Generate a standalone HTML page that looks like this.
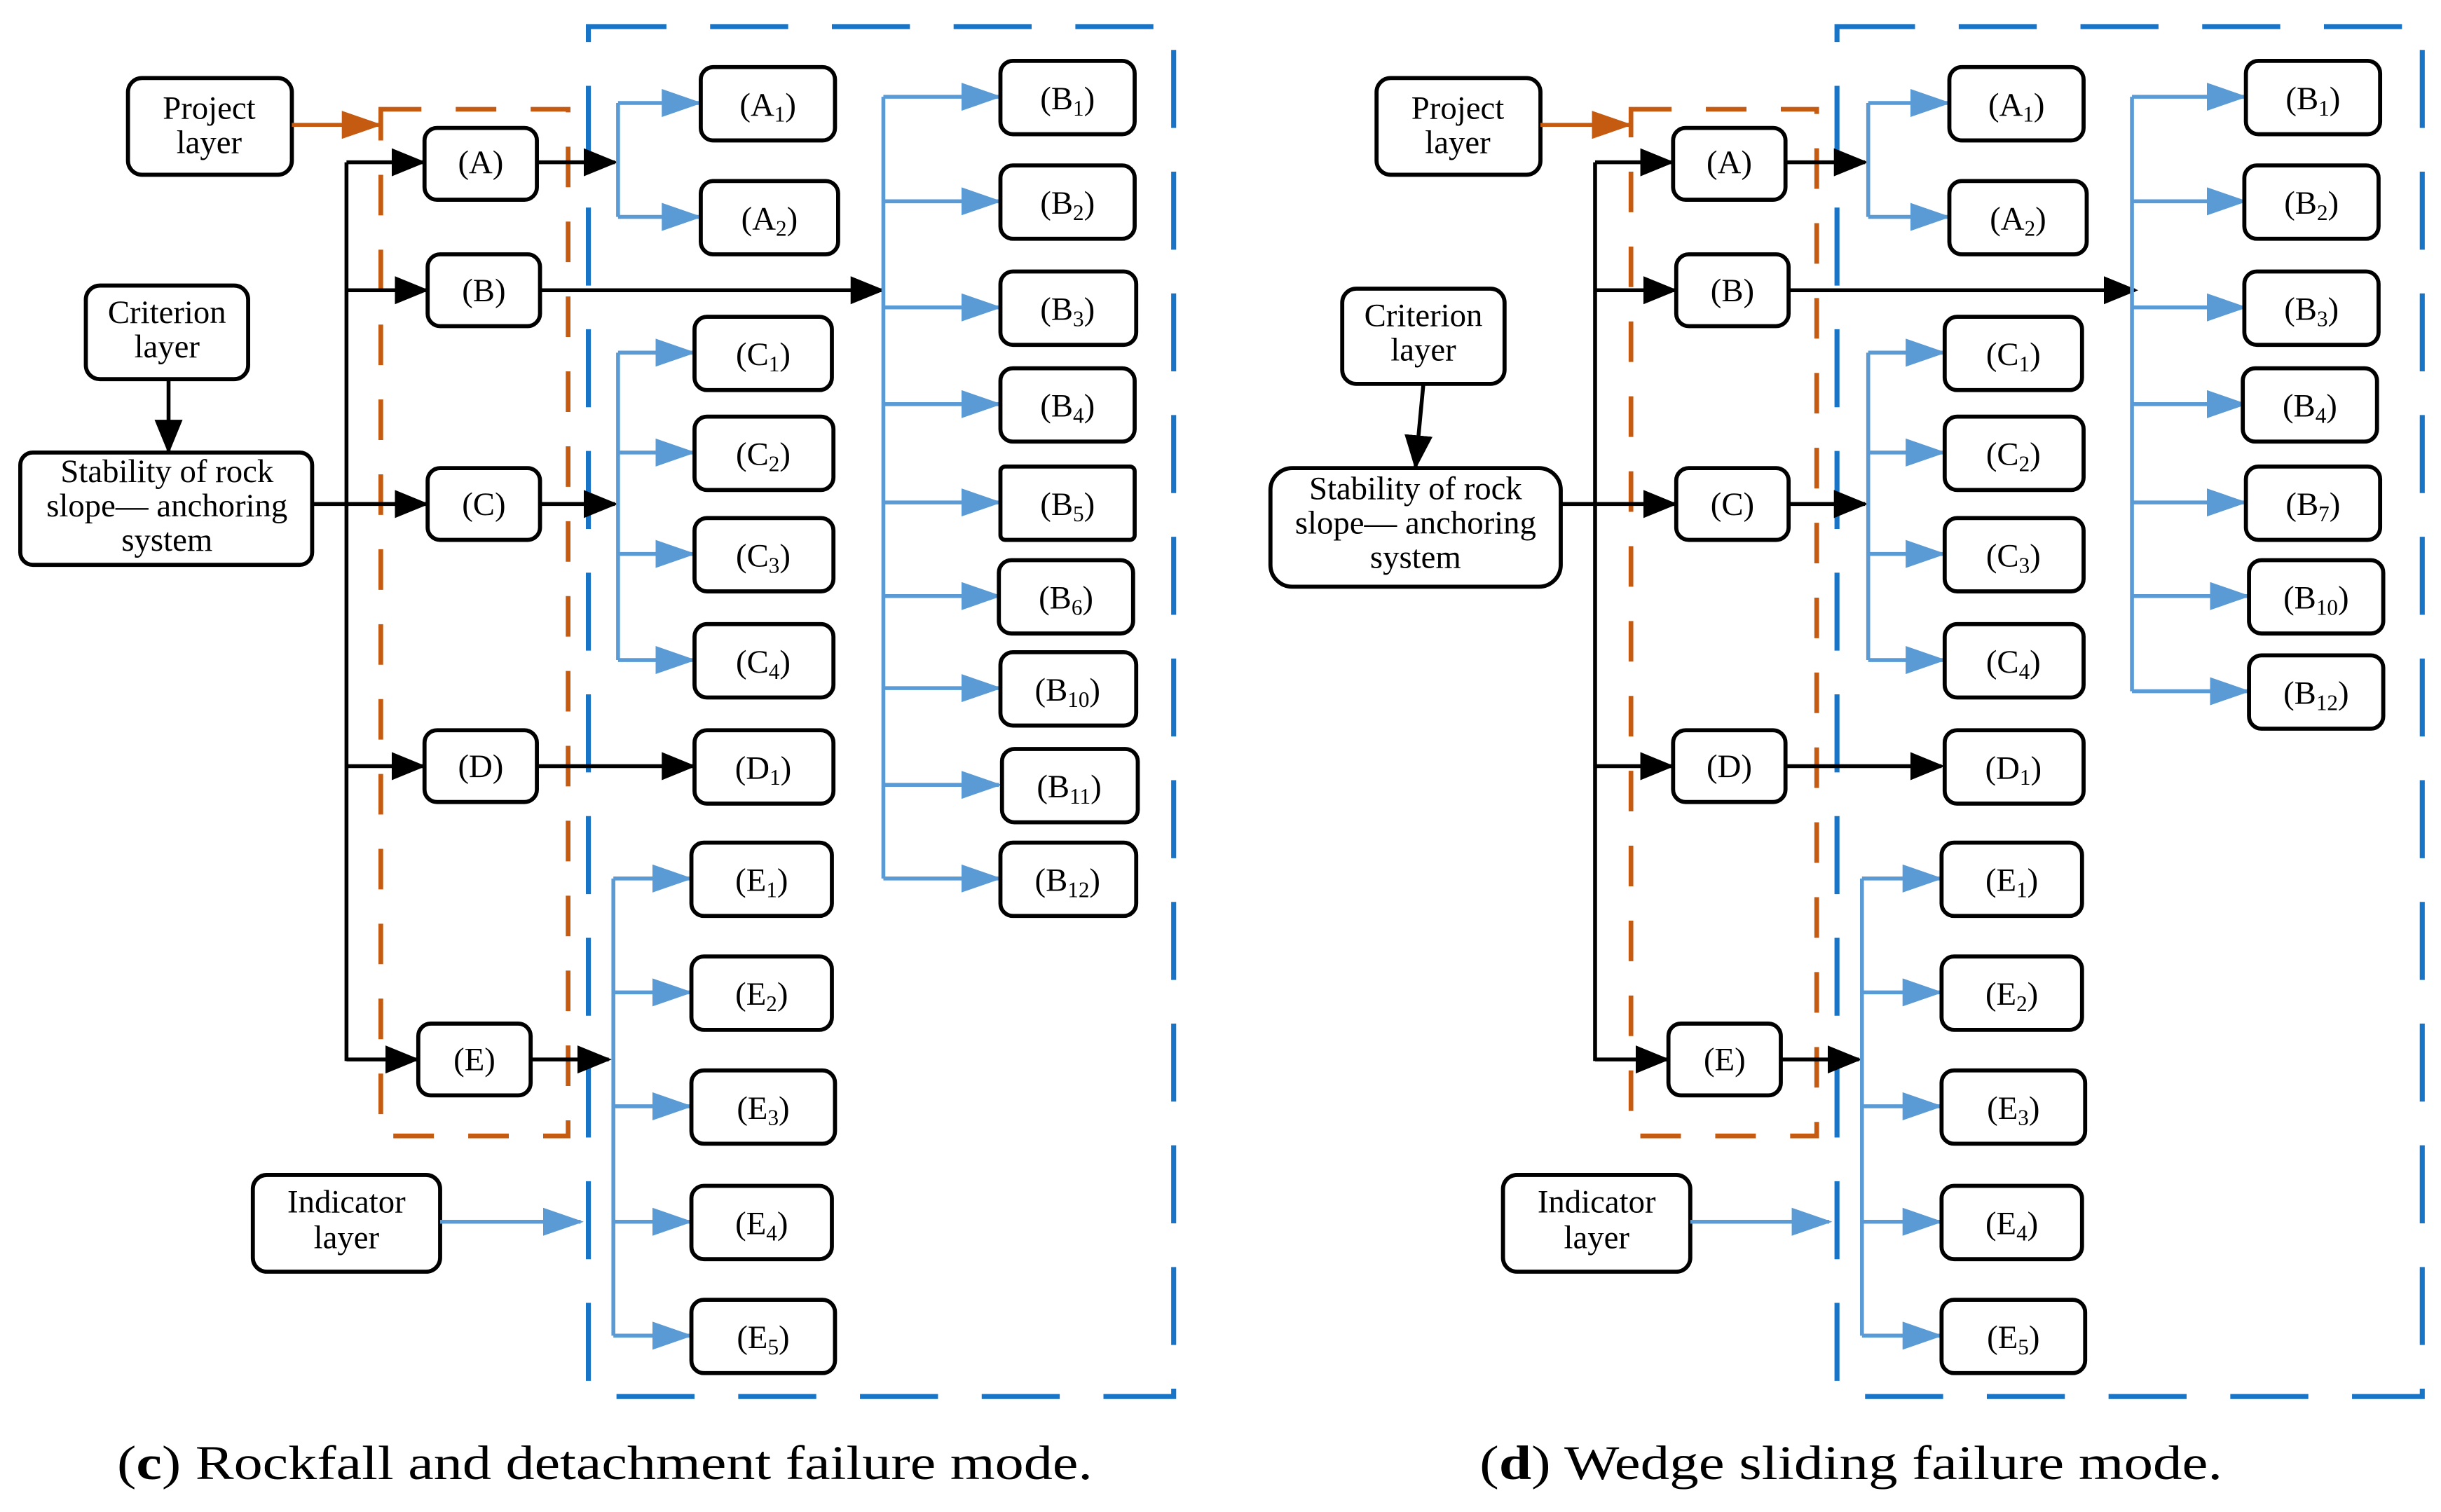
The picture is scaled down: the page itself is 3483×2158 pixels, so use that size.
<!DOCTYPE html>
<html><head><meta charset="utf-8"><style>
html,body{margin:0;padding:0;background:#fff;}
svg{display:block;}
text{font-family:"Liberation Serif",serif;fill:#000;}
</style></head><body>
<svg width="3483" height="2158" viewBox="0 0 1564 969" xmlns="http://www.w3.org/2000/svg">
<defs>
<marker id="bk" markerUnits="userSpaceOnUse" markerWidth="22" markerHeight="18" refX="20" refY="9" orient="auto"><path d="M0,0 L22,9 L0,18 z" fill="#000"/></marker>
<marker id="bl" markerUnits="userSpaceOnUse" markerWidth="26" markerHeight="18" refX="24" refY="9" orient="auto"><path d="M0,0 L26,9 L0,18 z" fill="#5B9BD5"/></marker>
<marker id="or" markerUnits="userSpaceOnUse" markerWidth="26" markerHeight="18" refX="24" refY="9" orient="auto"><path d="M0,0 L26,9 L0,18 z" fill="#C55A11"/></marker>
<style>
.bx{fill:#fff;stroke:#000;stroke-width:2.6;}
.k{stroke:#000;stroke-width:2.5;fill:none;}
.b{stroke:#5B9BD5;stroke-width:2.5;fill:none;}
.o{stroke:#C55A11;stroke-width:2.5;fill:none;}
.od{stroke:#C55A11;stroke-width:3;fill:none;stroke-dasharray:26 22;}
.bd{stroke:#1874C6;stroke-width:3.2;fill:none;stroke-dasharray:50 28;}
.t{font-size:21px;text-anchor:middle;}
.s{font-size:14px;}
</style>
</defs>

<!-- ============ PANEL C ============ -->
<g>
<rect x="244" y="70" width="120" height="658" class="od"/>
<rect x="377" y="17" width="375" height="878" class="bd"/>

<rect x="82" y="50" width="105" height="62" rx="9" class="bx"/>
<text x="134" y="76" class="t">Project</text><text x="134" y="98" class="t">layer</text>
<line x1="187" y1="80" x2="243" y2="80" class="o" marker-end="url(#or)"/>

<rect x="55" y="183" width="104" height="60" rx="9" class="bx"/>
<text x="107" y="207" class="t">Criterion</text><text x="107" y="229" class="t">layer</text>
<line x1="108" y1="243" x2="108" y2="289" class="k" marker-end="url(#bk)"/>

<rect x="13" y="290" width="187" height="72" rx="8" class="bx"/>
<text x="107" y="309" class="t">Stability of rock</text>
<text x="107" y="331" class="t">slope— anchoring</text>
<text x="107" y="353" class="t">system</text>

<path d="M200,323 H222 M222,104 V680" class="k"/>
<line x1="222" y1="104" x2="271" y2="104" class="k" marker-end="url(#bk)"/>
<line x1="222" y1="186" x2="273" y2="186" class="k" marker-end="url(#bk)"/>
<line x1="222" y1="323" x2="273" y2="323" class="k" marker-end="url(#bk)"/>
<line x1="222" y1="491" x2="271" y2="491" class="k" marker-end="url(#bk)"/>
<line x1="222" y1="679" x2="267" y2="679" class="k" marker-end="url(#bk)"/>

<rect x="272" y="82" width="72" height="46" rx="8" class="bx"/><text x="308" y="111" class="t">(A)</text>
<rect x="274" y="163" width="72" height="46" rx="8" class="bx"/><text x="310" y="193" class="t">(B)</text>
<rect x="274" y="300" width="72" height="46" rx="8" class="bx"/><text x="310" y="330" class="t">(C)</text>
<rect x="272" y="468" width="72" height="46" rx="8" class="bx"/><text x="308" y="498" class="t">(D)</text>
<rect x="268" y="656" width="72" height="46" rx="8" class="bx"/><text x="304" y="686" class="t">(E)</text>

<line x1="344" y1="104" x2="394" y2="104" class="k" marker-end="url(#bk)"/>
<line x1="346" y1="186" x2="565" y2="186" class="k" marker-end="url(#bk)"/>
<line x1="346" y1="323" x2="394" y2="323" class="k" marker-end="url(#bk)"/>
<line x1="344" y1="491" x2="444" y2="491" class="k" marker-end="url(#bk)"/>
<line x1="340" y1="679" x2="390" y2="679" class="k" marker-end="url(#bk)"/>

<!-- A -->
<path d="M396,66 V139" class="b"/>
<line x1="396" y1="66" x2="448" y2="66" class="b" marker-end="url(#bl)"/>
<line x1="396" y1="139" x2="448" y2="139" class="b" marker-end="url(#bl)"/>
<rect x="449" y="43" width="86" height="47" rx="8" class="bx"/><text x="492" y="74" class="t">(A<tspan class="s" dy="4">1</tspan><tspan dy="-4">)</tspan></text>
<rect x="449" y="116" width="88" height="47" rx="8" class="bx"/><text x="493" y="147" class="t">(A<tspan class="s" dy="4">2</tspan><tspan dy="-4">)</tspan></text>

<!-- C -->
<path d="M396,226 V423" class="b"/>
<line x1="396" y1="226" x2="444" y2="226" class="b" marker-end="url(#bl)"/>
<line x1="396" y1="290" x2="444" y2="290" class="b" marker-end="url(#bl)"/>
<line x1="396" y1="355" x2="444" y2="355" class="b" marker-end="url(#bl)"/>
<line x1="396" y1="423" x2="444" y2="423" class="b" marker-end="url(#bl)"/>
<rect x="445" y="203" width="88" height="47" rx="8" class="bx"/><text x="489" y="234" class="t">(C<tspan class="s" dy="4">1</tspan><tspan dy="-4">)</tspan></text>
<rect x="445" y="267" width="89" height="47" rx="8" class="bx"/><text x="489" y="298" class="t">(C<tspan class="s" dy="4">2</tspan><tspan dy="-4">)</tspan></text>
<rect x="445" y="332" width="89" height="47" rx="8" class="bx"/><text x="489" y="363" class="t">(C<tspan class="s" dy="4">3</tspan><tspan dy="-4">)</tspan></text>
<rect x="445" y="400" width="89" height="47" rx="8" class="bx"/><text x="489" y="431" class="t">(C<tspan class="s" dy="4">4</tspan><tspan dy="-4">)</tspan></text>

<!-- D1 -->
<rect x="445" y="468" width="89" height="47" rx="8" class="bx"/><text x="489" y="499" class="t">(D<tspan class="s" dy="4">1</tspan><tspan dy="-4">)</tspan></text>

<!-- E -->
<path d="M393,563 V856" class="b"/>
<line x1="393" y1="563" x2="442" y2="563" class="b" marker-end="url(#bl)"/>
<line x1="393" y1="636" x2="442" y2="636" class="b" marker-end="url(#bl)"/>
<line x1="393" y1="709" x2="442" y2="709" class="b" marker-end="url(#bl)"/>
<line x1="393" y1="783" x2="442" y2="783" class="b" marker-end="url(#bl)"/>
<line x1="393" y1="856" x2="442" y2="856" class="b" marker-end="url(#bl)"/>
<rect x="443" y="540" width="90" height="47" rx="8" class="bx"/><text x="488" y="571" class="t">(E<tspan class="s" dy="4">1</tspan><tspan dy="-4">)</tspan></text>
<rect x="443" y="613" width="90" height="47" rx="8" class="bx"/><text x="488" y="644" class="t">(E<tspan class="s" dy="4">2</tspan><tspan dy="-4">)</tspan></text>
<rect x="443" y="686" width="92" height="47" rx="8" class="bx"/><text x="489" y="717" class="t">(E<tspan class="s" dy="4">3</tspan><tspan dy="-4">)</tspan></text>
<rect x="443" y="760" width="90" height="47" rx="8" class="bx"/><text x="488" y="791" class="t">(E<tspan class="s" dy="4">4</tspan><tspan dy="-4">)</tspan></text>
<rect x="443" y="833" width="92" height="47" rx="8" class="bx"/><text x="489" y="864" class="t">(E<tspan class="s" dy="4">5</tspan><tspan dy="-4">)</tspan></text>

<!-- B -->
<path d="M566,62 V563" class="b"/>
<g>
<line x1="566" y1="62" x2="640" y2="62" class="b" marker-end="url(#bl)"/>
<line x1="566" y1="129" x2="640" y2="129" class="b" marker-end="url(#bl)"/>
<line x1="566" y1="197" x2="640" y2="197" class="b" marker-end="url(#bl)"/>
<line x1="566" y1="259" x2="640" y2="259" class="b" marker-end="url(#bl)"/>
<line x1="566" y1="322" x2="640" y2="322" class="b" marker-end="url(#bl)"/>
<line x1="566" y1="382" x2="640" y2="382" class="b" marker-end="url(#bl)"/>
<line x1="566" y1="441" x2="640" y2="441" class="b" marker-end="url(#bl)"/>
<line x1="566" y1="503" x2="640" y2="503" class="b" marker-end="url(#bl)"/>
<line x1="566" y1="563" x2="640" y2="563" class="b" marker-end="url(#bl)"/>
</g>
<rect x="641" y="39" width="86" height="47" rx="8" class="bx"/><text x="684" y="70" class="t">(B<tspan class="s" dy="4">1</tspan><tspan dy="-4">)</tspan></text>
<rect x="641" y="106" width="86" height="47" rx="8" class="bx"/><text x="684" y="137" class="t">(B<tspan class="s" dy="4">2</tspan><tspan dy="-4">)</tspan></text>
<rect x="641" y="174" width="87" height="47" rx="8" class="bx"/><text x="684" y="205" class="t">(B<tspan class="s" dy="4">3</tspan><tspan dy="-4">)</tspan></text>
<rect x="641" y="236" width="86" height="47" rx="8" class="bx"/><text x="684" y="267" class="t">(B<tspan class="s" dy="4">4</tspan><tspan dy="-4">)</tspan></text>
<rect x="641" y="299" width="86" height="47" rx="3" class="bx"/><text x="684" y="330" class="t">(B<tspan class="s" dy="4">5</tspan><tspan dy="-4">)</tspan></text>
<rect x="640" y="359" width="86" height="47" rx="8" class="bx"/><text x="683" y="390" class="t">(B<tspan class="s" dy="4">6</tspan><tspan dy="-4">)</tspan></text>
<rect x="641" y="418" width="87" height="47" rx="8" class="bx"/><text x="684" y="449" class="t">(B<tspan class="s" dy="4">10</tspan><tspan dy="-4">)</tspan></text>
<rect x="642" y="480" width="87" height="47" rx="8" class="bx"/><text x="685" y="511" class="t">(B<tspan class="s" dy="4">11</tspan><tspan dy="-4">)</tspan></text>
<rect x="641" y="540" width="87" height="47" rx="8" class="bx"/><text x="684" y="571" class="t">(B<tspan class="s" dy="4">12</tspan><tspan dy="-4">)</tspan></text>

<rect x="162" y="753" width="120" height="62" rx="9" class="bx"/>
<text x="222" y="777" class="t">Indicator</text><text x="222" y="800" class="t">layer</text>
<line x1="282" y1="783" x2="372" y2="783" class="b" marker-end="url(#bl)"/>

<text x="75" y="948" font-size="31" textLength="625" lengthAdjust="spacingAndGlyphs">(<tspan font-weight="bold">c</tspan>) Rockfall and detachment failure mode.</text>
</g>

<!-- ============ PANEL D ============ -->
<g>
<rect x="1045" y="70" width="119" height="658" class="od"/>
<rect x="1177" y="17" width="375" height="878" class="bd"/>

<rect x="882" y="50" width="105" height="62" rx="9" class="bx"/>
<text x="934" y="76" class="t">Project</text><text x="934" y="98" class="t">layer</text>
<line x1="987" y1="80" x2="1044" y2="80" class="o" marker-end="url(#or)"/>

<rect x="860" y="185" width="104" height="61" rx="9" class="bx"/>
<text x="912" y="209" class="t">Criterion</text><text x="912" y="231" class="t">layer</text>
<line x1="912" y1="246" x2="907" y2="299" class="k" marker-end="url(#bk)"/>

<rect x="814" y="300" width="186" height="76" rx="14" class="bx"/>
<text x="907" y="320" class="t">Stability of rock</text>
<text x="907" y="342" class="t">slope— anchoring</text>
<text x="907" y="364" class="t">system</text>

<path d="M1000,323 H1022 M1022,104 V680" class="k"/>
<line x1="1022" y1="104" x2="1071" y2="104" class="k" marker-end="url(#bk)"/>
<line x1="1022" y1="186" x2="1073" y2="186" class="k" marker-end="url(#bk)"/>
<line x1="1022" y1="323" x2="1073" y2="323" class="k" marker-end="url(#bk)"/>
<line x1="1022" y1="491" x2="1071" y2="491" class="k" marker-end="url(#bk)"/>
<line x1="1022" y1="679" x2="1068" y2="679" class="k" marker-end="url(#bk)"/>

<rect x="1072" y="82" width="72" height="46" rx="8" class="bx"/><text x="1108" y="111" class="t">(A)</text>
<rect x="1074" y="163" width="72" height="46" rx="8" class="bx"/><text x="1110" y="193" class="t">(B)</text>
<rect x="1074" y="300" width="72" height="46" rx="8" class="bx"/><text x="1110" y="330" class="t">(C)</text>
<rect x="1072" y="468" width="72" height="46" rx="8" class="bx"/><text x="1108" y="498" class="t">(D)</text>
<rect x="1069" y="656" width="72" height="46" rx="8" class="bx"/><text x="1105" y="686" class="t">(E)</text>

<line x1="1144" y1="104" x2="1195" y2="104" class="k" marker-end="url(#bk)"/>
<line x1="1146" y1="186" x2="1368" y2="186" class="k" marker-end="url(#bk)"/>
<line x1="1146" y1="323" x2="1195" y2="323" class="k" marker-end="url(#bk)"/>
<line x1="1144" y1="491" x2="1244" y2="491" class="k" marker-end="url(#bk)"/>
<line x1="1141" y1="679" x2="1191" y2="679" class="k" marker-end="url(#bk)"/>

<path d="M1197,66 V139" class="b"/>
<line x1="1197" y1="66" x2="1248" y2="66" class="b" marker-end="url(#bl)"/>
<line x1="1197" y1="139" x2="1248" y2="139" class="b" marker-end="url(#bl)"/>
<rect x="1249" y="43" width="86" height="47" rx="8" class="bx"/><text x="1292" y="74" class="t">(A<tspan class="s" dy="4">1</tspan><tspan dy="-4">)</tspan></text>
<rect x="1249" y="116" width="88" height="47" rx="8" class="bx"/><text x="1293" y="147" class="t">(A<tspan class="s" dy="4">2</tspan><tspan dy="-4">)</tspan></text>

<path d="M1197,226 V423" class="b"/>
<line x1="1197" y1="226" x2="1245" y2="226" class="b" marker-end="url(#bl)"/>
<line x1="1197" y1="290" x2="1245" y2="290" class="b" marker-end="url(#bl)"/>
<line x1="1197" y1="355" x2="1245" y2="355" class="b" marker-end="url(#bl)"/>
<line x1="1197" y1="423" x2="1245" y2="423" class="b" marker-end="url(#bl)"/>
<rect x="1246" y="203" width="88" height="47" rx="8" class="bx"/><text x="1290" y="234" class="t">(C<tspan class="s" dy="4">1</tspan><tspan dy="-4">)</tspan></text>
<rect x="1246" y="267" width="89" height="47" rx="8" class="bx"/><text x="1290" y="298" class="t">(C<tspan class="s" dy="4">2</tspan><tspan dy="-4">)</tspan></text>
<rect x="1246" y="332" width="89" height="47" rx="8" class="bx"/><text x="1290" y="363" class="t">(C<tspan class="s" dy="4">3</tspan><tspan dy="-4">)</tspan></text>
<rect x="1246" y="400" width="89" height="47" rx="8" class="bx"/><text x="1290" y="431" class="t">(C<tspan class="s" dy="4">4</tspan><tspan dy="-4">)</tspan></text>

<rect x="1246" y="468" width="89" height="47" rx="8" class="bx"/><text x="1290" y="499" class="t">(D<tspan class="s" dy="4">1</tspan><tspan dy="-4">)</tspan></text>

<path d="M1193,563 V856" class="b"/>
<line x1="1193" y1="563" x2="1243" y2="563" class="b" marker-end="url(#bl)"/>
<line x1="1193" y1="636" x2="1243" y2="636" class="b" marker-end="url(#bl)"/>
<line x1="1193" y1="709" x2="1243" y2="709" class="b" marker-end="url(#bl)"/>
<line x1="1193" y1="783" x2="1243" y2="783" class="b" marker-end="url(#bl)"/>
<line x1="1193" y1="856" x2="1243" y2="856" class="b" marker-end="url(#bl)"/>
<rect x="1244" y="540" width="90" height="47" rx="8" class="bx"/><text x="1289" y="571" class="t">(E<tspan class="s" dy="4">1</tspan><tspan dy="-4">)</tspan></text>
<rect x="1244" y="613" width="90" height="47" rx="8" class="bx"/><text x="1289" y="644" class="t">(E<tspan class="s" dy="4">2</tspan><tspan dy="-4">)</tspan></text>
<rect x="1244" y="686" width="92" height="47" rx="8" class="bx"/><text x="1290" y="717" class="t">(E<tspan class="s" dy="4">3</tspan><tspan dy="-4">)</tspan></text>
<rect x="1244" y="760" width="90" height="47" rx="8" class="bx"/><text x="1289" y="791" class="t">(E<tspan class="s" dy="4">4</tspan><tspan dy="-4">)</tspan></text>
<rect x="1244" y="833" width="92" height="47" rx="8" class="bx"/><text x="1290" y="864" class="t">(E<tspan class="s" dy="4">5</tspan><tspan dy="-4">)</tspan></text>

<path d="M1366,62 V443" class="b"/>
<line x1="1366" y1="62" x2="1438" y2="62" class="b" marker-end="url(#bl)"/>
<line x1="1366" y1="129" x2="1438" y2="129" class="b" marker-end="url(#bl)"/>
<line x1="1366" y1="197" x2="1438" y2="197" class="b" marker-end="url(#bl)"/>
<line x1="1366" y1="259" x2="1438" y2="259" class="b" marker-end="url(#bl)"/>
<line x1="1366" y1="322" x2="1438" y2="322" class="b" marker-end="url(#bl)"/>
<line x1="1366" y1="382" x2="1440" y2="382" class="b" marker-end="url(#bl)"/>
<line x1="1366" y1="443" x2="1440" y2="443" class="b" marker-end="url(#bl)"/>
<rect x="1439" y="39" width="86" height="47" rx="8" class="bx"/><text x="1482" y="70" class="t">(B<tspan class="s" dy="4">1</tspan><tspan dy="-4">)</tspan></text>
<rect x="1438" y="106" width="86" height="47" rx="8" class="bx"/><text x="1481" y="137" class="t">(B<tspan class="s" dy="4">2</tspan><tspan dy="-4">)</tspan></text>
<rect x="1438" y="174" width="86" height="47" rx="8" class="bx"/><text x="1481" y="205" class="t">(B<tspan class="s" dy="4">3</tspan><tspan dy="-4">)</tspan></text>
<rect x="1437" y="236" width="86" height="47" rx="8" class="bx"/><text x="1480" y="267" class="t">(B<tspan class="s" dy="4">4</tspan><tspan dy="-4">)</tspan></text>
<rect x="1439" y="299" width="86" height="47" rx="8" class="bx"/><text x="1482" y="330" class="t">(B<tspan class="s" dy="4">7</tspan><tspan dy="-4">)</tspan></text>
<rect x="1441" y="359" width="86" height="47" rx="8" class="bx"/><text x="1484" y="390" class="t">(B<tspan class="s" dy="4">10</tspan><tspan dy="-4">)</tspan></text>
<rect x="1441" y="420" width="86" height="47" rx="8" class="bx"/><text x="1484" y="451" class="t">(B<tspan class="s" dy="4">12</tspan><tspan dy="-4">)</tspan></text>

<rect x="963" y="753" width="120" height="62" rx="9" class="bx"/>
<text x="1023" y="777" class="t">Indicator</text><text x="1023" y="800" class="t">layer</text>
<line x1="1083" y1="783" x2="1172" y2="783" class="b" marker-end="url(#bl)"/>

<text x="948" y="948" font-size="31" textLength="476" lengthAdjust="spacingAndGlyphs">(<tspan font-weight="bold">d</tspan>) Wedge sliding failure mode.</text>
</g>
</svg>
</body></html>
